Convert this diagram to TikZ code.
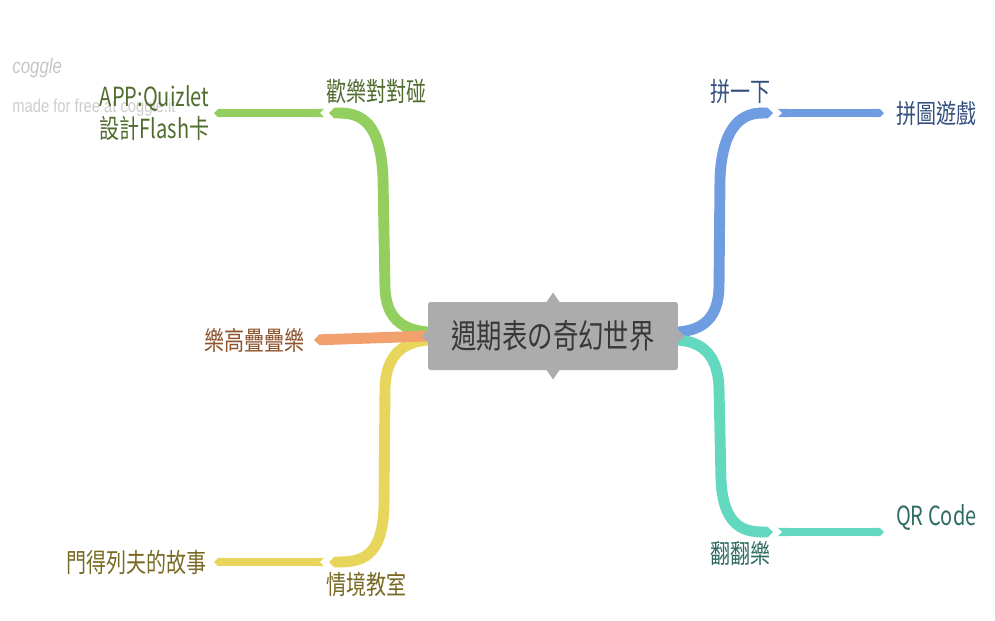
\documentclass[tikz,border=0pt]{standalone}
\usepackage{fontspec}
\setmainfont{Noto Sans CJK TC}[FakeStretch=0.76]
\newfontfamily\markfont{Liberation Sans}[FakeStretch=0.8]
\usetikzlibrary{positioning,arrows.meta}

\definecolor{grnB}{HTML}{93CF5E}
\definecolor{orgB}{HTML}{F2A06E}
\definecolor{ylwB}{HTML}{E8D65C}
\definecolor{bluB}{HTML}{709CE2}
\definecolor{tealB}{HTML}{62D8BF}
\definecolor{grnT}{HTML}{4F6B2D}
\definecolor{orgT}{HTML}{8C532C}
\definecolor{ylwT}{HTML}{786A24}
\definecolor{bluT}{HTML}{34507E}
\definecolor{tealT}{HTML}{2E6C61}

\begin{document}
\begin{tikzpicture}[x=0.02cm, y=-0.02cm,
    hub/.style = {fill=gray!65, rounded corners=1.5pt, minimum width=5cm, minimum height=1.36cm,
                  text=black!78, font=\fontsize{19}{22}\selectfont},
    branch/.style = {line width=6.2pt, -{Triangle Cap}},
    twig/.style = {line width=4.6pt, {Triangle Cap[reversed]}-{Triangle Cap}},
    lbl/.style = {inner sep=1pt, font=\fontsize{15}{17}\selectfont}]

    \useasboundingbox (0,0) rectangle (995,620);

    % watermark
    \node[anchor=west, inner sep=0pt, text=gray!45, font=\markfont\itshape\fontsize{12}{14}\selectfont] (mark) at (12,68) {coggle};
    \node[anchor=west, inner sep=0pt, text=gray!40, font=\markfont\fontsize{10.5}{12}\selectfont] (made) at (12,108) {made for free at coggle.it};

    % branch ends
    \coordinate (gEnd) at (329,113);
    \coordinate (gLeaf) at (214,113);
    \coordinate (oTip) at (314,340);
    \coordinate (yEnd) at (329,562);
    \coordinate (yLeaf) at (214,562);
    \coordinate (bEnd) at (773,113);
    \coordinate (bLeaf) at (884,113);
    \coordinate (tEnd) at (773,532);
    \coordinate (tLeaf) at (884,532);

    % main branches
    \draw[branch, grnB] (428,332) .. controls (400,330) and (386,316) .. (385,288) -- (383,178)
        .. controls (381,132) and (368,113) .. (gEnd);
    \draw[branch, ylwB] (428,340) .. controls (400,342) and (386,358) .. (385,388) -- (384,508)
        .. controls (382,550) and (368,562) .. (yEnd);
    \draw[branch, bluB] (678,332) .. controls (705,330) and (718,316) .. (719,288) -- (720,178)
        .. controls (722,132) and (738,113) .. (bEnd);
    \draw[branch, tealB] (678,340) .. controls (705,342) and (718,358) .. (719,388) -- (721,480)
        .. controls (723,522) and (740,532) .. (tEnd);
    \draw[branch, orgB] (428,336) -- (oTip);

    % sub branches
    \draw[twig, grnB] (324,113) -- (gLeaf);
    \draw[twig, ylwB] (324,562) -- (yLeaf);
    \draw[twig, bluB] (778,113) -- (bLeaf);
    \draw[twig, tealB] (778,532) -- (tLeaf);

    % centre
    \node[hub] (hub) at (553,336) {週期表の奇幻世界};
    \fill[gray!65] (hub.north) ++(-7,1) -- ++(7,-10) -- ++(7,10) -- cycle;
    \fill[gray!65] (hub.south) ++(-7,-1) -- ++(7,10) -- ++(7,-10) -- cycle;
    \fill[gray!65] (hub.west) ++(1,-7) -- ++(-7,7) -- ++(7,7) -- cycle;
    \fill[gray!65] (hub.east) ++(-1,-7) -- ++(7,7) -- ++(-7,7) -- cycle;

    % labels
    \node[lbl, text=grnT, above right=1.5mm and -1mm of gEnd] (gLbl) {歡樂對對碰};
    \node[lbl, text=grnT, align=center, left=0.5mm of gLeaf] (gLeafLbl) {APP:Quizlet\\[1pt]設計Flash卡};
    \node[lbl, text=orgT, left=1.5mm of oTip] (oLbl) {樂高疊疊樂};
    \node[lbl, text=ylwT, below right=1.5mm and -1mm of yEnd] (yLbl) {情境教室};
    \node[lbl, text=ylwT, left=1mm of yLeaf] (yLeafLbl) {門得列夫的故事};
    \node[lbl, text=bluT, above left=1.5mm and 0mm of bEnd] (bLbl) {拼一下};
    \node[lbl, text=bluT, right=2mm of bLeaf] (bLeafLbl) {拼圖遊戲};
    \node[lbl, text=tealT, below left=1.5mm and 0mm of tEnd] (tLbl) {翻翻樂};
    \node[lbl, text=tealT, above right=0mm and 2mm of tLeaf] (tLeafLbl) {QR Code};
\end{tikzpicture}
\end{document}
